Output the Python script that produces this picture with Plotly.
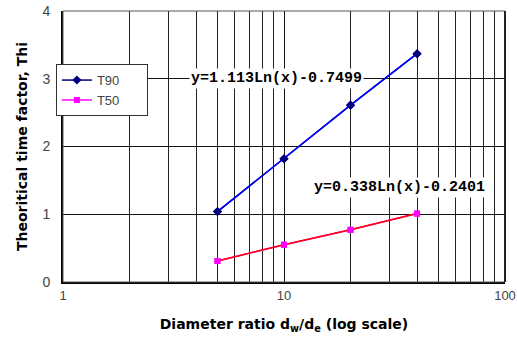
import plotly.graph_objects as go

ratio = [5, 10, 20, 40]
t90 = [1.04, 1.82, 2.61, 3.37]
t50 = [0.31, 0.55, 0.77, 1.01]
eq90 = "y=1.113Ln(x)-0.7499"
eq50 = "y=0.338Ln(x)-0.2401"
xmajor = [1, 10, 100]
xminor = [2, 3, 4, 5, 6, 7, 8, 9, 20, 30, 40, 50, 60, 70, 80, 90]
ytickvals = [0, 1, 2, 3, 4]
pad = "\u00a0" * 6

fig = go.Figure()
fig.add_trace(go.Scatter(x=ratio, y=t90, mode="lines+markers", name="T90" + pad,
                         line=dict(color="#000080", width=1.5),
                         marker=dict(symbol="diamond", size=7, color="#000080")))
fig.add_trace(go.Scatter(x=ratio, y=t50, mode="lines+markers", name="T50" + pad,
                         line=dict(color="#FF00FF", width=1.5),
                         marker=dict(symbol="square", size=6, color="#FF00FF")))
# trendline overlays
fig.add_trace(go.Scatter(x=ratio, y=t90, mode="lines", showlegend=False,
                         line=dict(color="#0000FF", width=1.5), hoverinfo="skip"))
fig.add_trace(go.Scatter(x=ratio, y=t50, mode="lines", showlegend=False,
                         line=dict(color="#FF0000", width=1.5), hoverinfo="skip"))
fig.add_trace(go.Scatter(x=ratio, y=t90, mode="markers", showlegend=False,
                         marker=dict(symbol="diamond", size=7, color="#000080"), hoverinfo="skip"))
fig.add_trace(go.Scatter(x=ratio, y=t50, mode="markers", showlegend=False,
                         marker=dict(symbol="square", size=6, color="#FF00FF"), hoverinfo="skip"))

fig.update_layout(
    width=517, height=337,
    margin=dict(l=63, r=12, t=11, b=55),
    paper_bgcolor="white", plot_bgcolor="white",
    font=dict(family="DejaVu Sans, sans-serif", color="#333"),
    showlegend=True,
    legend=dict(x=-0.016, y=0.804, xanchor="left", yanchor="top",
                bgcolor="white", bordercolor="#333", borderwidth=1,
                font=dict(family="Liberation Sans, Arial, sans-serif", size=13, color="#444"),
                tracegroupgap=0, itemwidth=30),
    xaxis=dict(type="log", range=[0, 2], tickvals=xmajor, ticktext=[str(v) for v in xmajor],
               showgrid=True, gridcolor="#111", gridwidth=1,
               minor=dict(tickvals=xminor, showgrid=True, gridcolor="#222", gridwidth=1, ticks=""),
               showline=True, linecolor="black", linewidth=2, automargin=False,
               ticks="", tickfont=dict(family="Liberation Sans, Arial, sans-serif", size=13, color="#444"),
               title=dict(text="<b>Diameter ratio d<sub>w</sub>/d<sub>e</sub> (log scale)</b>",
                          font=dict(size=14, color="black"), standoff=18),
               zeroline=False),
    yaxis=dict(range=[0, 4], tickvals=ytickvals, showgrid=True, gridcolor="#111", gridwidth=1,
               showline=True, linecolor="black", linewidth=2, ticks="", automargin=False,
               tickfont=dict(family="Liberation Sans, Arial, sans-serif", size=14, color="#444"),
               ticklabelstandoff=8,
               title=dict(text="<b>Theoritical time factor, Thi</b>",
                          font=dict(size=14, color="black"), standoff=12),
               zeroline=False),
)

fig.add_shape(type="rect", xref="paper", yref="paper", x0=0, x1=1, y0=0, y1=1,
              line=dict(color="#555", width=1), layer="above")
fig.add_shape(type="line", xref="paper", yref="paper", x0=1, x1=1, y0=0, y1=1,
              line=dict(color="#222", width=2), layer="above")

fig.add_annotation(x=0.968, y=3.0, xref="x", yref="y", text="<b>" + eq90 + "</b>",
                   showarrow=False, bgcolor="white",
                   font=dict(family="Liberation Mono, DejaVu Sans Mono, monospace", size=15, color="black"))
fig.add_annotation(x=1.523, y=1.40, xref="x", yref="y", text="<b>" + eq50 + "</b>",
                   showarrow=False, bgcolor="white",
                   font=dict(family="Liberation Mono, DejaVu Sans Mono, monospace", size=15, color="black"))

fig.write_html("out.html")
